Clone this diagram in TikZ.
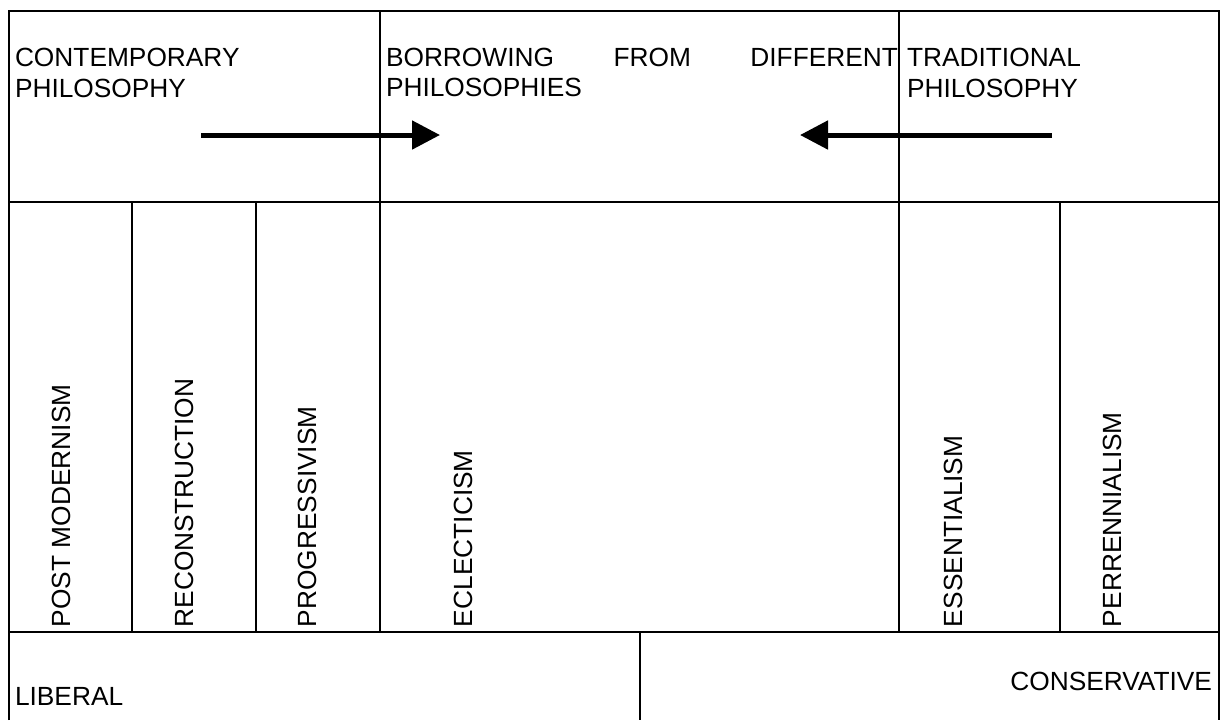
\documentclass[tikz,border=0pt]{standalone}
\usepackage{fontspec}
\setmainfont{Liberation Sans}
\usetikzlibrary{arrows.meta, positioning}

\begin{document}
\begin{tikzpicture}[x=0.5pt, y=-0.5pt, line width=1pt,
    font=\fontsize{13.15}{15.35}\selectfont,
    lbl/.style={inner sep=0pt, align=left},
    vlbl/.style={inner sep=0pt, rotate=90, anchor=base west},
    bigarrow/.style={line width=2.5pt, -{Triangle[length=14pt, width=14pt]}}]

    \useasboundingbox (0,0) rectangle (1220,720);

    % frame and rows
    \draw (9,720) -- (9,11) -- (1219,11) -- (1219,720);
    \draw (9,202) -- (1219,202);
    \draw (9,632) -- (1219,632);

    % columns
    \draw (380,11) -- (380,632);
    \draw (899,11) -- (899,632);
    \draw (132,202) -- (132,632);
    \draw (256,202) -- (256,632);
    \draw (1060,202) -- (1060,632);
    \draw (640,632) -- (640,720);

    % headings
    \node[lbl, anchor=base west] (contemporary) at (14,97) {CONTEMPORARY\\PHILOSOPHY};
    \node[lbl, anchor=base west, text width=256pt] (borrowing) at (385,66)
        {BORROWING\hfill FROM\hfill DIFFERENT\\PHILOSOPHIES};
    \node[lbl, anchor=base west] (traditional) at (906,97) {TRADITIONAL\\PHILOSOPHY};

    % arrows
    \coordinate (from-left) at (201,135);
    \coordinate (to-left) at (440,135);
    \coordinate (from-right) at (1052,135);
    \coordinate (to-right) at (800,135);
    \draw[bigarrow] (from-left) -- (to-left);
    \draw[bigarrow] (from-right) -- (to-right);

    % schools
    \node[vlbl] (postmodernism) at (70,628) {POST MODERNISM};
    \node[vlbl] (reconstruction) at (193,628) {RECONSTRUCTION};
    \node[vlbl] (progressivism) at (316,628) {PROGRESSIVISM};
    \node[vlbl] (eclecticism) at (472,628) {ECLECTICISM};
    \node[vlbl] (essentialism) at (962,628) {ESSENTIALISM};
    \node[vlbl] (perennialism) at (1121,628) {PERRENNIALISM};

    % bottom row
    \node[lbl, anchor=base west] (liberal) at (14,705) {LIBERAL};
    \node[lbl, anchor=base east] (conservative) at (1213,690) {CONSERVATIVE};

\end{tikzpicture}
\end{document}
